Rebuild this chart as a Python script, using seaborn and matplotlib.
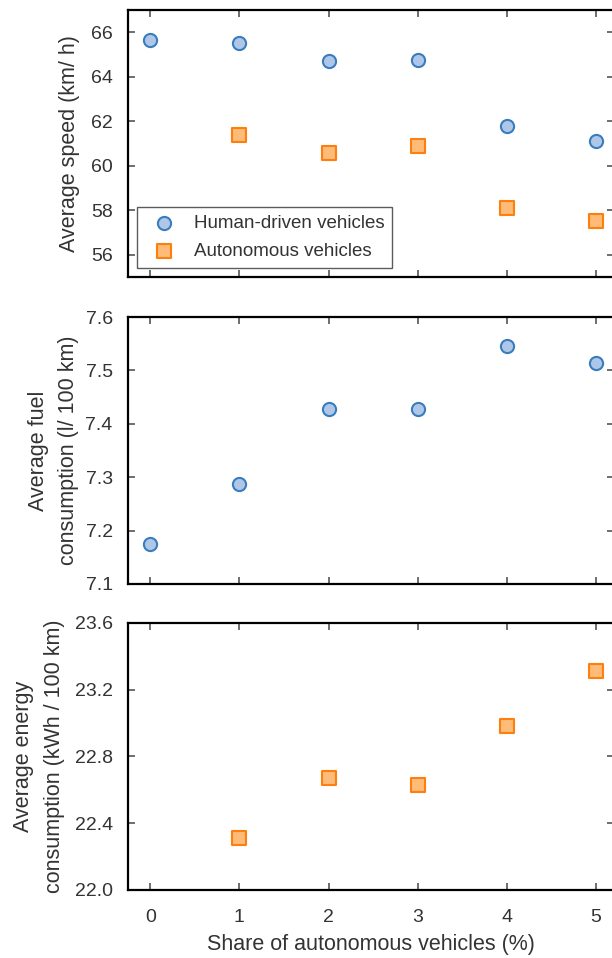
import matplotlib
matplotlib.use("Agg")
import matplotlib.pyplot as plt
import pandas as pd
import seaborn as sns

# Share of autonomous vehicles (%)
share = [0, 1, 2, 3, 4, 5]
share_av = [1, 2, 3, 4, 5]

speed_human = [65.65, 65.5, 64.7, 64.75, 61.8, 61.1]
speed_auto = [61.4, 60.55, 60.9, 58.1, 57.5]
fuel_human = [7.175, 7.287, 7.428, 7.428, 7.545, 7.513]
energy_auto = [22.31, 22.67, 22.63, 22.98, 23.31]

human_label = "Human-driven vehicles"
auto_label = "Autonomous vehicles"

sns.set_theme(style="ticks")
plt.rcParams["font.family"] = ["Liberation Sans", "DejaVu Sans"]
plt.rcParams["text.color"] = "#333333"
plt.rcParams["axes.labelcolor"] = "#333333"
plt.rcParams["xtick.color"] = "#555555"
plt.rcParams["ytick.color"] = "#555555"
plt.rcParams["xtick.labelcolor"] = "#333333"
plt.rcParams["ytick.labelcolor"] = "#333333"

palette = {human_label: "#aec7e8", auto_label: "#ffbb78"}
edges = {human_label: "#3a7dbd", auto_label: "#ff7f0e"}
markers = {human_label: "o", auto_label: "s"}
sizes = {human_label: 90, auto_label: 115}

speed_df = pd.concat([
    pd.DataFrame({"share": share, "value": speed_human, "type": human_label}),
    pd.DataFrame({"share": share_av, "value": speed_auto, "type": auto_label}),
])
fuel_df = pd.DataFrame({"share": share, "value": fuel_human, "type": human_label})
energy_df = pd.DataFrame({"share": share_av, "value": energy_auto, "type": auto_label})

fig = plt.figure(figsize=(6.12, 9.58), dpi=100)
left, width, height = 0.209, 0.794, 0.2787
ax1 = fig.add_axes([left, 0.7109, width, height])
ax2 = fig.add_axes([left, 0.3904, width, height])
ax3 = fig.add_axes([left, 0.0710, width, height])


def draw(ax, df, legend=False):
    for name, sub in df.groupby("type", sort=False):
        sns.scatterplot(data=sub, x="share", y="value", ax=ax, marker=markers[name],
                        color=palette[name], edgecolor=edges[name], linewidth=1.5,
                        s=sizes[name], label=name if legend else None, legend=legend,
                        zorder=3)


draw(ax1, speed_df, legend=True)
draw(ax2, fuel_df)
draw(ax3, energy_df)

ax1.set_ylim(55, 67)
ax1.set_yticks([56, 58, 60, 62, 64, 66])
ax2.set_ylim(7.1, 7.6)
ax2.set_yticks([7.1, 7.2, 7.3, 7.4, 7.5, 7.6])
ax3.set_ylim(22.0, 23.6)
ax3.set_yticks([22.0, 22.4, 22.8, 23.2, 23.6])
ax3.set_yticklabels(["22.0", "22.4", "22.8", "23.2", "23.6"])

lab_fs = 15.5
ax1.set_ylabel("Average speed (km/ h)", fontsize=lab_fs)
ax2.set_ylabel("Average fuel\nconsumption (l/ 100 km)", fontsize=lab_fs, linespacing=1.6)
ax3.set_ylabel("Average energy\nconsumption (kWh / 100 km)", fontsize=lab_fs, linespacing=1.6)
ax3.set_xlabel("Share of autonomous vehicles (%)", fontsize=lab_fs)
ax1.yaxis.set_label_coords(-0.099, 0.5)
ax2.yaxis.set_label_coords(-0.100, 0.5)
ax3.yaxis.set_label_coords(-0.130, 0.5)
ax3.xaxis.set_label_coords(0.5, -0.165)

for ax in (ax1, ax2, ax3):
    ax.set_xlim(-0.25, 5.2)
    ax.set_xticks(share)
    ax.tick_params(direction="in", length=5, width=1.2, top=True, right=True,
                   labelsize=14)
    ax.tick_params(axis="y", pad=11)
    ax.tick_params(axis="x", pad=14)
    for sp in ax.spines.values():
        sp.set_linewidth(1.6)
        sp.set_color("black")
    if ax is not ax3:
        ax.set_xlabel("")
        ax.tick_params(labelbottom=False)

leg = ax1.legend(loc="lower left", fontsize=13.5, frameon=True, fancybox=False,
                 edgecolor="#333333", borderaxespad=0.5, handletextpad=0.6,
                 borderpad=0.4, labelspacing=0.6)
leg.get_frame().set_linewidth(1.0)

fig.savefig("out.png", dpi=100)
